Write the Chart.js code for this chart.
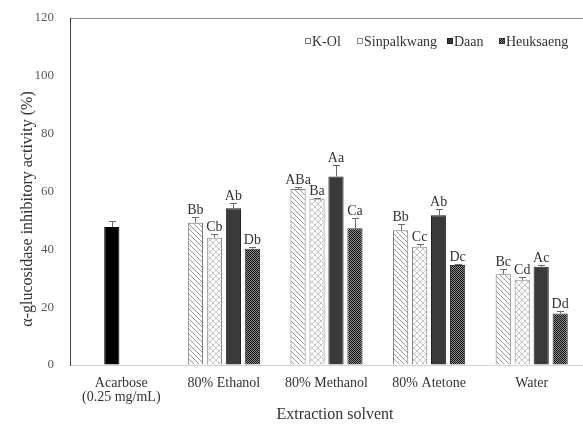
<!DOCTYPE html>
<html>
<head>
<meta charset="utf-8">
<script src="https://cdn.jsdelivr.net/npm/chart.js@4"></script>
<style>
html,body{margin:0;padding:0;background:#fff;}
#wrap{width:583px;height:424px;position:relative;}
</style>
</head>
<body>
<div id="wrap"><canvas id="c" width="583" height="424"></canvas></div>
<script>
// ---- data ----
const categories = [["Acarbose", "(0.25 mg/mL)"], "80% Ethanol", "80% Methanol", "80% Atetone", "Water"];
const seriesNames = ["K-Ol", "Sinpalkwang", "Daan", "Heuksaeng"];
const acarboseValues = [47.7, null, null, null, null];
const acarboseErrors = [2.1, null, null, null, null];
const kolValues = [null, 49.2, 60.9, 46.6, 31.4];
const kolErrors = [null, 2.0, 0.7, 2.3, 1.7];
const sinpalkwangValues = [null, 44.0, 57.5, 40.9, 29.5];
const sinpalkwangErrors = [null, 1.4, 0.4, 0.9, 0.9];
const daanValues = [null, 54.2, 65.2, 51.8, 34.0];
const daanErrors = [null, 1.9, 3.8, 2.2, 0.7];
const heuksaengValues = [null, 40.2, 47.3, 34.6, 17.8];
const heuksaengErrors = [null, 0.5, 3.5, 0.5, 0.9];
const kolLetters = ["", "Bb", "ABa", "Bb", "Bc"];
const sinpalkwangLetters = ["", "Cb", "Ba", "Cc", "Cd"];
const daanLetters = ["", "Ab", "Aa", "Ab", "Ac"];
const heuksaengLetters = ["", "Db", "Ca", "Dc", "Dd"];
const yTicks = [0, 20, 40, 60, 80, 100, 120];
const xTitle = "Extraction solvent";
const yTitle = "α-glucosidase inhibitory activity (%)";

// ---- patterns ----
function makeCanvas(w, h) { const c = document.createElement('canvas'); c.width = w; c.height = h; return c; }
const ctx0 = document.getElementById('c').getContext('2d');
function diagPattern() {
  const s = 5, c = makeCanvas(s, s), g = c.getContext('2d');
  g.fillStyle = '#fff'; g.fillRect(0, 0, s, s);
  g.strokeStyle = '#9a9a9a'; g.lineWidth = 1;
  g.beginPath();
  g.moveTo(-1, -1); g.lineTo(s + 1, s + 1);
  g.moveTo(-1, s - 1); g.lineTo(1, s + 1);
  g.moveTo(s - 1, -1); g.lineTo(s + 1, 1);
  g.stroke();
  return ctx0.createPattern(c, 'repeat');
}
function crossPattern() {
  const s = 6, c = makeCanvas(s, s), g = c.getContext('2d');
  g.fillStyle = '#fff'; g.fillRect(0, 0, s, s);
  g.strokeStyle = '#b8b8b8'; g.lineWidth = 0.8;
  g.beginPath();
  g.moveTo(0, 0); g.lineTo(s, s);
  g.moveTo(s, 0); g.lineTo(0, s);
  g.stroke();
  return ctx0.createPattern(c, 'repeat');
}
function checkPattern() {
  const s = 2, c = makeCanvas(s, s), g = c.getContext('2d');
  g.fillStyle = '#8a8a8a'; g.fillRect(0, 0, s, s);
  g.fillStyle = '#111'; g.fillRect(0, 0, 1, 1); g.fillRect(1, 1, 1, 1);
  return ctx0.createPattern(c, 'repeat');
}
const fills = [diagPattern(), crossPattern(), '#3a3a3a', checkPattern()];
const borders = ['#7a7a7a', '#8a8a8a', '#1e1e1e', '#333'];
const legendFills = ['#fff', '#fff', '#3a3a3a', checkPattern()];

const serif = "'Liberation Serif', 'Times New Roman', serif";

const seriesValues = [kolValues, sinpalkwangValues, daanValues, heuksaengValues];
const seriesErrors = [kolErrors, sinpalkwangErrors, daanErrors, heuksaengErrors];
const seriesLetters = [kolLetters, sinpalkwangLetters, daanLetters, heuksaengLetters];

const datasets = seriesNames.map((n, i) => ({
  label: n,
  data: seriesValues[i],
  errors: seriesErrors[i],
  letters: seriesLetters[i],
  backgroundColor: fills[i],
  borderColor: borders[i],
  borderWidth: 1,
  stack: 's' + i
}));
datasets.push({
  label: 'Acarbose',
  data: acarboseValues,
  errors: acarboseErrors,
  letters: ["", "", "", "", ""],
  backgroundColor: '#000',
  borderColor: '#000',
  borderWidth: 1,
  stack: 's1'
});

const errorPlugin = {
  id: 'errs',
  afterDatasetsDraw(chart) {
    const ctx = chart.ctx, y = chart.scales.y;
    ctx.save();
    chart.data.datasets.forEach((ds, di) => {
      const meta = chart.getDatasetMeta(di);
      meta.data.forEach((bar, i) => {
        const v = ds.data[i];
        if (v == null) return;
        const e = ds.errors[i] || 0;
        const top = y.getPixelForValue(v + e);
        const x = Math.round(bar.x) + 0.5;
        ctx.strokeStyle = '#6a6a6a'; ctx.lineWidth = 1;
        ctx.beginPath();
        ctx.moveTo(x, bar.y); ctx.lineTo(x, Math.round(top) + 0.5);
        ctx.moveTo(x - 3.5, Math.round(top) + 0.5); ctx.lineTo(x + 3.5, Math.round(top) + 0.5);
        ctx.stroke();
        const t = ds.letters[i];
        if (t) {
          ctx.fillStyle = '#333';
          ctx.font = '14px ' + serif;
          ctx.textAlign = 'center';
          ctx.textBaseline = 'alphabetic';
          ctx.fillText(t, bar.x, top - 3);
        }
      });
    });
    ctx.restore();
  }
};

const legendPlugin = {
  id: 'customLegend',
  afterDraw(chart) {
    const ctx = chart.ctx;
    const xs = [305, 357, 447, 499];
    const cy = 41;
    ctx.save();
    ctx.font = '14px ' + serif;
    ctx.textBaseline = 'middle';
    ctx.textAlign = 'left';
    seriesNames.forEach((n, i) => {
      ctx.fillStyle = legendFills[i];
      ctx.fillRect(xs[i], cy - 3, 6, 6);
      ctx.strokeStyle = borders[i];
      ctx.lineWidth = 1;
      ctx.strokeRect(xs[i] + 0.5, cy - 2.5, 5, 5);
      ctx.fillStyle = '#333';
      ctx.fillText(n, xs[i] + 7, cy + 1);
    });
    // axis titles
    ctx.font = '16px ' + serif;
    ctx.textAlign = 'center';
    ctx.textBaseline = 'middle';
    ctx.fillStyle = '#333';
    ctx.fillText(xTitle, 335, 415);
    ctx.translate(28, 209);
    ctx.rotate(-Math.PI / 2);
    ctx.fillText(yTitle, 0, 0);
    ctx.restore();
  }
};

new Chart(document.getElementById('c'), {
  type: 'bar',
  data: { labels: categories, datasets },
  options: {
    responsive: false,
    animation: false,
    layout: { padding: { top: 18, right: 0, left: 0, bottom: 0 } },
    plugins: { legend: { display: false }, tooltip: { enabled: false } },
    datasets: { bar: { categoryPercentage: 0.74, barPercentage: 0.8, grouped: true } },
    scales: {
      x: {
        grid: { display: false },
        border: { display: true, color: '#d4d4d4', width: 1 },
        ticks: { color: '#333', font: { family: serif, size: 14, lineHeight: 0.95 }, padding: 4, maxRotation: 0, autoSkip: false },
        afterFit(s) { s.height = 59; s.paddingLeft = 0; s.paddingRight = 0; }
      },
      y: {
        min: 0, max: 120,
        afterBuildTicks(s) { s.ticks = yTicks.map(v => ({ value: v })); },
        grid: { drawTicks: false, color: c => (c.tick && c.tick.value === 120) ? '#8c8c8c' : 'rgba(0,0,0,0)' },
        border: { display: true, color: '#444', width: 1 },
        ticks: { color: '#595959', font: { family: serif, size: 13 }, padding: 16 },
        afterFit(s) { s.width = 70; s.paddingTop = 0; s.paddingBottom = 0; }
      }
    }
  },
  plugins: [errorPlugin, legendPlugin]
});
</script>
</body>
</html>
